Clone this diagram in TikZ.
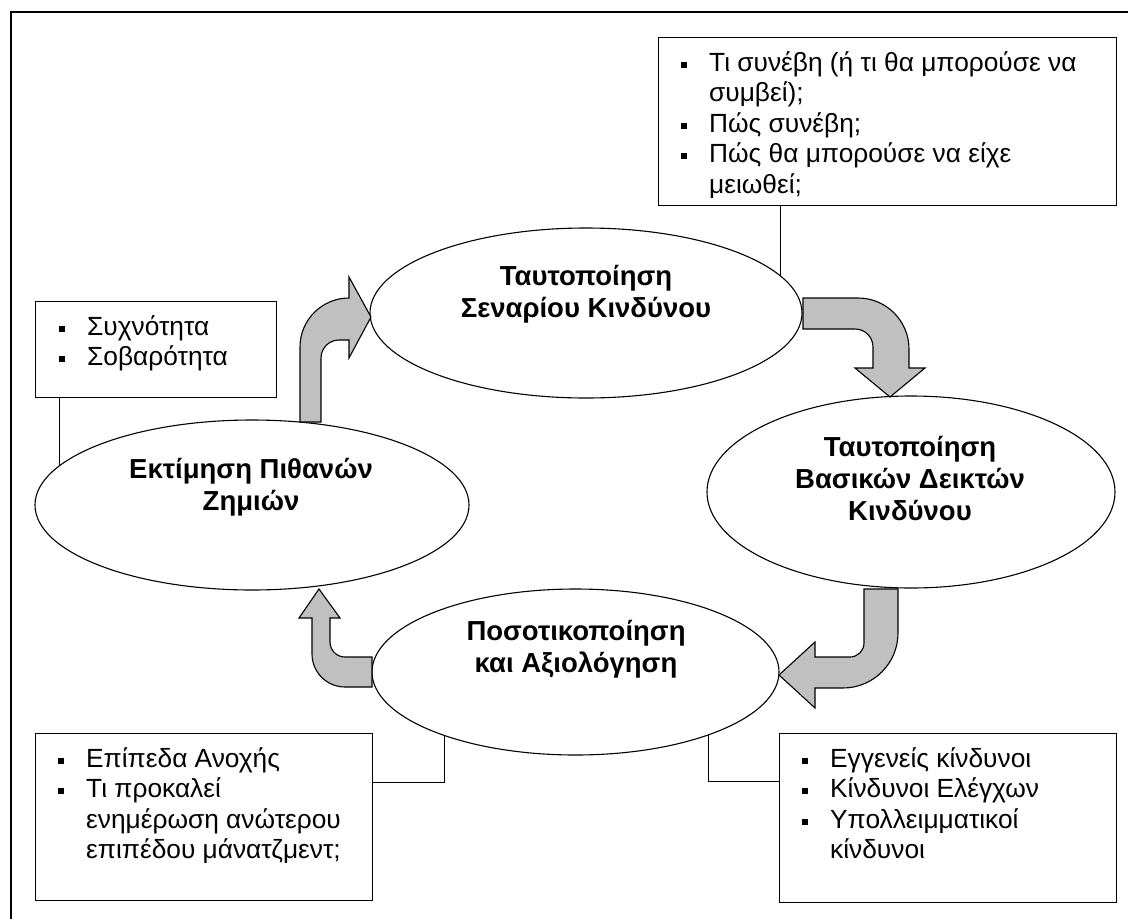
\documentclass[tikz,border=0pt]{standalone}
\usepackage{fontspec}
\setmainfont{Liberation Sans}
\usetikzlibrary{shapes.geometric}
\definecolor{arrowgray}{HTML}{C0C0C0}
% small square bullet hanging to the left of the item text
\newcommand{\sqbul}{\llap{\rule[3.5pt]{6pt}{6pt}\hspace{22.5pt}}}

\begin{document}
\begin{tikzpicture}[x=1pt,y=-1pt,
  frame/.style={line width=1.6pt},
  itembox/.style={draw, line width=1.4pt, fill=white, rectangle, inner sep=0pt, anchor=north west},
  stage/.style={draw, line width=1.1pt, fill=white, ellipse, inner sep=0pt},
  stagetext/.style={anchor=base, inner sep=0pt, font=\fontsize{27.5}{32}\selectfont\bfseries},
  itemtext/.style={anchor=base west, inner sep=0pt, font=\fontsize{26.3}{30.5}\selectfont},
  conn/.style={line width=0.9pt},
  flow/.style={draw, line width=1.1pt, fill=arrowgray, line join=miter}]

\useasboundingbox[fill=white] (0,0) rectangle (1128,919);

% outer frame
\draw[frame] (1140,12) -- (11,12) -- (11,930);

% joints of the connectors inside the stages
\coordinate (k1) at (780,300);
\coordinate (k4) at (59,480);
\coordinate (k3a) at (444,715);
\coordinate (j3a) at (444,782);
\coordinate (k3b) at (708,715);
\coordinate (j3b) at (708,781);

% item boxes (drawn first so the connectors can start at their borders)
\node[itembox, minimum width=458pt, minimum height=168pt] (btr) at (658,37) {};
\node[itembox, minimum width=241pt, minimum height=96pt]  (bl)  at (35,301) {};
\node[itembox, minimum width=337pt, minimum height=167pt] (bbl) at (35,733) {};
\node[itembox, minimum width=337pt, minimum height=169pt] (bbr) at (779,733) {};

% connectors
\draw[conn] (btr.south -| k1) -- (k1);
\draw[conn] (bl.south -| k4) -- (k4);
\draw[conn] (bbl.east |- j3a) -- (j3a) -- (k3a);
\draw[conn] (bbr.west |- j3b) -- (j3b) -- (k3b);

% stages
\node[stage, minimum width=432pt, minimum height=170pt] (e1) at (586,313) {};
\node[stage, minimum width=408pt, minimum height=192pt] (e2) at (911,492) {};
\node[stage, minimum width=407pt, minimum height=166pt] (e3) at (575.5,672) {};
\node[stage, minimum width=434pt, minimum height=170pt] (e4) at (252,505) {};

\node[stagetext] (t1) at (586,285) {\begin{tabular}[t]{@{}c@{}}Ταυτοποίηση\\Σεναρίου Κινδύνου\end{tabular}};
\node[stagetext] (t2) at (910,456) {\begin{tabular}[t]{@{}c@{}}Ταυτοποίηση\\Βασικών Δεικτών\\Κινδύνου\end{tabular}};
\node[stagetext] (t3) at (576,640) {\begin{tabular}[t]{@{}c@{}}Ποσοτικοποίηση\\και Αξιολόγηση\end{tabular}};
\node[stagetext] (t4) at (251,478) {\begin{tabular}[t]{@{}c@{}}Εκτίμηση Πιθανών\\Ζημιών\end{tabular}};

% bent block arrows of the cycle
\draw[flow] (300,422) -- (300,347) arc[start angle=180, end angle=270, radius=49]
  -- (349,277) -- (371,317) -- (349,358) -- (349,340) -- (339,340)
  arc[start angle=270, end angle=180, radius=18] -- (321,422) -- cycle;
\draw[flow] (803,298) -- (858,298) arc[start angle=270, end angle=360, radius=51]
  -- (909,368) -- (925,368) -- (890,397) -- (855,368) -- (873,368) -- (873,347)
  arc[start angle=0, end angle=-90, radius=18] -- (803,329) -- cycle;
\draw[flow] (864,589) -- (898,589) -- (898,633) arc[start angle=0, end angle=90, radius=55]
  -- (815,688) -- (815,708) -- (779,675) -- (815,642) -- (815,657) -- (850,657)
  arc[start angle=90, end angle=0, radius=14] -- cycle;
\draw[flow] (372,657) -- (345,657) arc[start angle=90, end angle=180, radius=15]
  -- (330,618) -- (340,618) -- (319,589) -- (299,618) -- (312,618) -- (312,654)
  arc[start angle=180, end angle=90, radius=33] -- (372,687) -- cycle;

% item texts
\node[itemtext] (xtr) at (709,71) {\begin{tabular}[t]{@{}l@{}}\sqbul Τι συνέβη (ή τι θα μπορούσε να\\συμβεί);\\\sqbul Πώς συνέβη;\\\sqbul Πώς θα μπορούσε να είχε\\μειωθεί;\end{tabular}};
\node[itemtext] (xl) at (87,335) {\begin{tabular}[t]{@{}l@{}}\sqbul Συχνότητα\\\sqbul Σοβαρότητα\end{tabular}};
\node[itemtext] (xbl) at (86,767) {\begin{tabular}[t]{@{}l@{}}\sqbul Επίπεδα Ανοχής\\\sqbul Τι προκαλεί\\ενημέρωση ανώτερου\\επιπέδου μάνατζμεντ;\end{tabular}};
\node[itemtext] (xbr) at (830,767) {\begin{tabular}[t]{@{}l@{}}\sqbul Εγγενείς κίνδυνοι\\\sqbul Κίνδυνοι Ελέγχων\\\sqbul Υπολλειμματικοί\\κίνδυνοι\end{tabular}};

\end{tikzpicture}
\end{document}
